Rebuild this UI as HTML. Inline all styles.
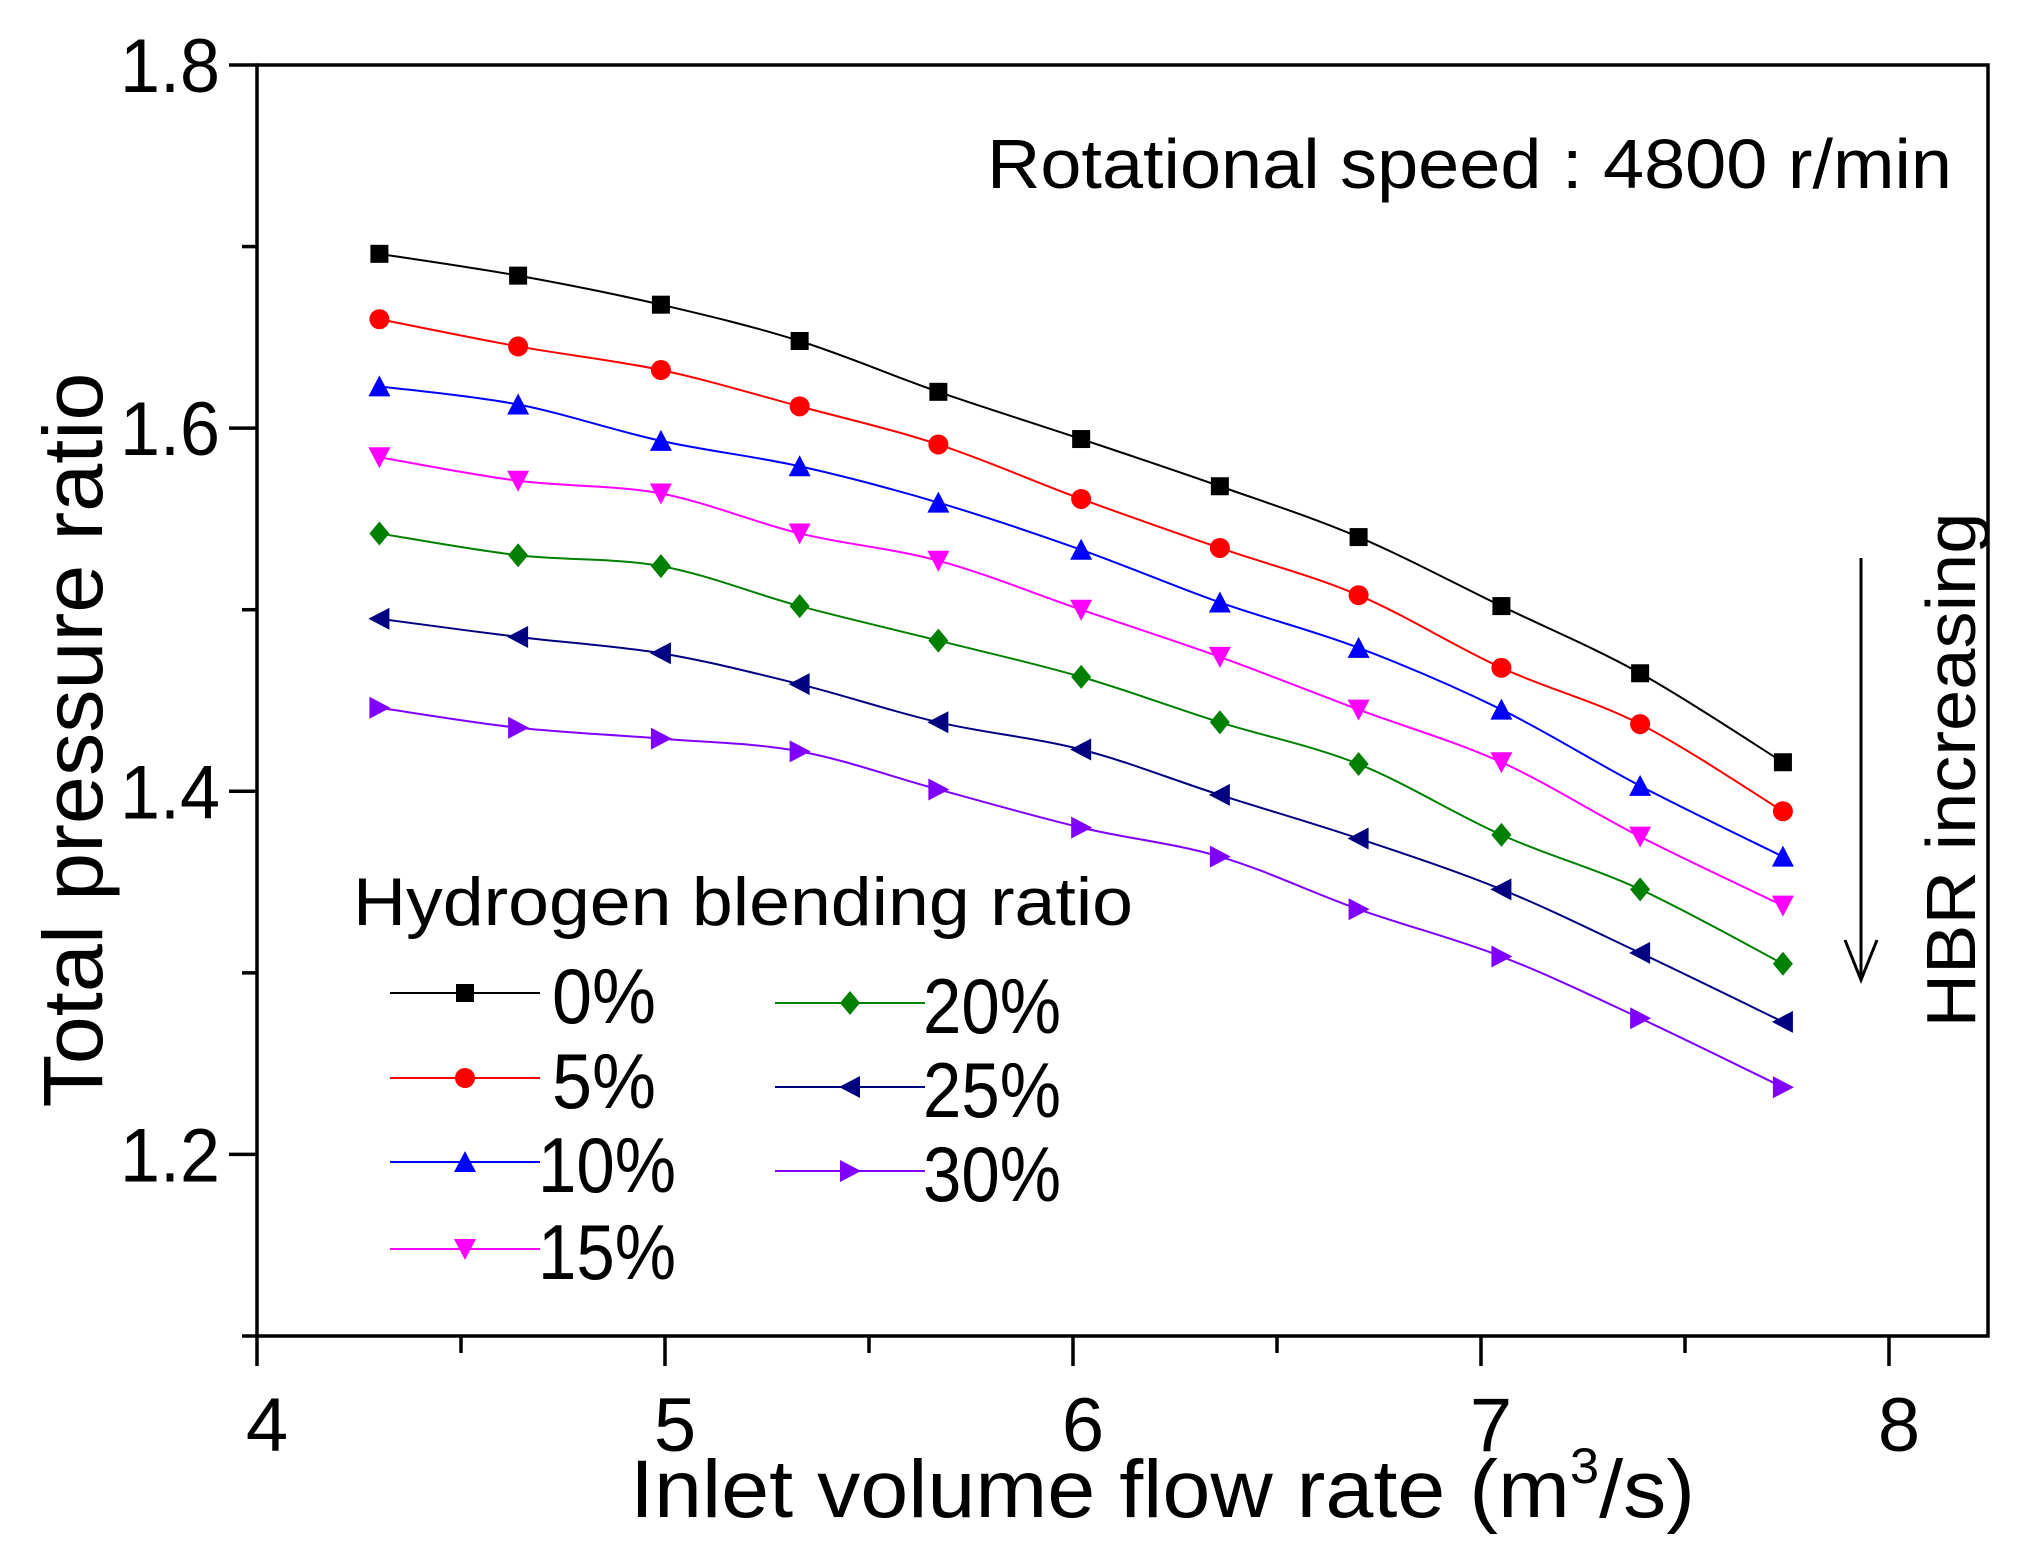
<!DOCTYPE html>
<html><head><meta charset="utf-8"><style>
html,body{margin:0;padding:0;background:#fff;}
svg{display:block;font-family:"Liberation Sans",Arial,sans-serif;}
</style></head><body>
<svg id="chart" width="2026" height="1563" viewBox="0 0 2026 1563" xmlns="http://www.w3.org/2000/svg">
<g id="axes"></g>
<g id="series"></g>
<g id="legend"></g>
<text x="987" y="188" font-size="70" textLength="965" lengthAdjust="spacingAndGlyphs">Rotational speed : 4800 r/min</text>
<text transform="translate(102,740) rotate(-90)" text-anchor="middle" font-size="84" textLength="735" lengthAdjust="spacingAndGlyphs">Total pressure ratio</text>
<text x="630" y="1517" font-size="82" textLength="1065" lengthAdjust="spacingAndGlyphs">Inlet volume flow rate (m<tspan font-size="50" dy="-34">3</tspan><tspan dy="34">/s)</tspan></text>
<text transform="translate(1975,770) rotate(-90)" text-anchor="middle" font-size="70" textLength="515" lengthAdjust="spacingAndGlyphs">HBR increasing</text>
<g stroke="#000" stroke-width="3" fill="none">
<line x1="1861" y1="558" x2="1861" y2="978"/>
<polyline points="1845,940 1861,980 1877,940"/>
</g>
</svg>
<script>
const xValues=[4.30,4.64,4.99,5.33,5.67,6.02,6.36,6.70,7.05,7.39,7.74];
const s0=[1.696,1.684,1.668,1.648,1.620,1.594,1.568,1.540,1.502,1.465,1.416];
const s5=[1.660,1.645,1.632,1.612,1.591,1.561,1.534,1.508,1.468,1.437,1.389];
const s10=[1.623,1.613,1.593,1.579,1.559,1.533,1.504,1.479,1.445,1.403,1.364];
const s15=[1.584,1.571,1.564,1.542,1.527,1.500,1.474,1.445,1.416,1.375,1.337];
const s20=[1.542,1.530,1.524,1.502,1.483,1.463,1.438,1.415,1.376,1.346,1.305];
const s25=[1.495,1.485,1.476,1.459,1.438,1.423,1.398,1.374,1.346,1.311,1.273];
const s30=[1.446,1.435,1.429,1.422,1.401,1.380,1.364,1.335,1.309,1.275,1.237];
const seriesLabels=["0%","5%","10%","15%","20%","25%","30%"];
const xTicks=[4,5,6,7,8];
const yTicks=[1.2,1.4,1.6,1.8];

const NS="http://www.w3.org/2000/svg";
const L=257,R=1988,T=65,B=1336;
const X0=4,XU=408,Y0=1.1,Y1=1.8;
const sx=v=>L+(v-X0)*XU;
const sy=v=>B-(v-Y0)/(Y1-Y0)*(B-T);
const allSeries=[s0,s5,s10,s15,s20,s25,s30];
const colors=["#000000","#ff0000","#0000ff","#ff00ff","#008000","#000080","#8000ff"];
const shapes=["square","circle","up","down","diamond","left","right"];
function mk(tag,attrs,parent){const e=document.createElementNS(NS,tag);for(const k in attrs)e.setAttribute(k,attrs[k]);parent.appendChild(e);return e;}
const axes=document.getElementById('axes');
const fr=mk('rect',{x:L,y:T,width:R-L,height:B-T,fill:'none',stroke:'#000','stroke-width':3.5},axes);


xTicks.forEach(t=>{
 const ln=mk('line',{x1:sx(t),y1:B,x2:sx(t),y2:B+30,stroke:'#000','stroke-width':3.5},axes);
 
 
 const tx=mk('text',{x:sx(t)+10,y:B+115,'text-anchor':'middle','font-size':76},axes);
 tx.textContent=String(t);
 
 
});
for(let i=0;i<4;i++){const t=4.5+i;
 const ln=mk('line',{x1:sx(t),y1:B,x2:sx(t),y2:B+17,stroke:'#000','stroke-width':3.5},axes);
 
 }
yTicks.forEach(t=>{
 const ln=mk('line',{x1:L-28,y1:sy(t),x2:L,y2:sy(t),stroke:'#000','stroke-width':3.5},axes);
 
 
 const tx=mk('text',{x:220,y:sy(t)+27,'text-anchor':'end','font-size':76,textLength:100,lengthAdjust:'spacingAndGlyphs'},axes);
 tx.textContent=t.toFixed(1);
 
 
});
[1.3,1.5,1.7,1.1].forEach(t=>{
 const ln=mk('line',{x1:L-15,y1:sy(t),x2:L,y2:sy(t),stroke:'#000','stroke-width':3.5},axes);
 
 });
function marker(shape,cx,cy,color,parent){
 const r=10;let e;
 if(shape==='square')e=mk('rect',{x:cx-r+1,y:cy-r+1,width:2*r-2,height:2*r-2,fill:color},parent);
 else if(shape==='circle')e=mk('circle',{cx:cx,cy:cy,r:r,fill:color},parent);
 else{let p;
  if(shape==='up')p=[[0,-r-1],[r+1,r],[-r-1,r]];
  else if(shape==='down')p=[[0,r+1],[r+1,-r],[-r-1,-r]];
  else if(shape==='diamond')p=[[0,-r-2],[r,0],[0,r+2],[-r,0]];
  else if(shape==='left')p=[[-r-1,0],[r,-r-1],[r,r+1]];
  else p=[[r+1,0],[-r,-r-1],[-r,r+1]];
  e=mk('polygon',{points:p.map(q=>(cx+q[0])+','+(cy+q[1])).join(' '),fill:color},parent);}
 return e;}
function smooth(pts){let d='M'+pts[0][0]+','+pts[0][1];
 for(let i=0;i<pts.length-1;i++){const p0=pts[Math.max(0,i-1)],p1=pts[i],p2=pts[i+1],p3=pts[Math.min(pts.length-1,i+2)];
  d+=' C'+(p1[0]+(p2[0]-p0[0])/6)+','+(p1[1]+(p2[1]-p0[1])/6)+' '+(p2[0]-(p3[0]-p1[0])/6)+','+(p2[1]-(p3[1]-p1[1])/6)+' '+p2[0]+','+p2[1];}
 return d;}
const sg=document.getElementById('series');
allSeries.forEach((s,k)=>{
 const g=mk('g',{},sg);
 
 
 const pts=s.map((v,i)=>[sx(xValues[i]),sy(v)]);
 const path=mk('path',{d:smooth(pts),fill:'none',stroke:colors[k],'stroke-width':2},g);
 
 
 pts.forEach(p=>{const m=marker(shapes[k],p[0],p[1],colors[k],g);
  
  });
});
const lg=document.getElementById('legend');
const lt=mk('text',{x:353,y:925,'font-size':68,textLength:780,lengthAdjust:'spacingAndGlyphs'},lg);
lt.textContent='Hydrogen blending ratio';


const rowsY=[993,1078,1162,1249,1003,1087,1171];
seriesLabels.forEach((lab,k)=>{
 const col=k<4?0:1;const x0=col?775:390;const y=rowsY[k];
 const g=mk('g',{},lg);
 
 
 mk('line',{x1:x0,y1:y,x2:x0+150,y2:y,stroke:colors[k],'stroke-width':2},g);
 marker(shapes[k],x0+75,y,colors[k],g);
 const tx=mk('text',{x:lab.length>2?x0+148:x0+162,y:y+30,'font-size':78,textLength:lab.length>2?138:104,lengthAdjust:'spacingAndGlyphs'},g);
 tx.textContent=lab;
});
</script>
</body></html>
